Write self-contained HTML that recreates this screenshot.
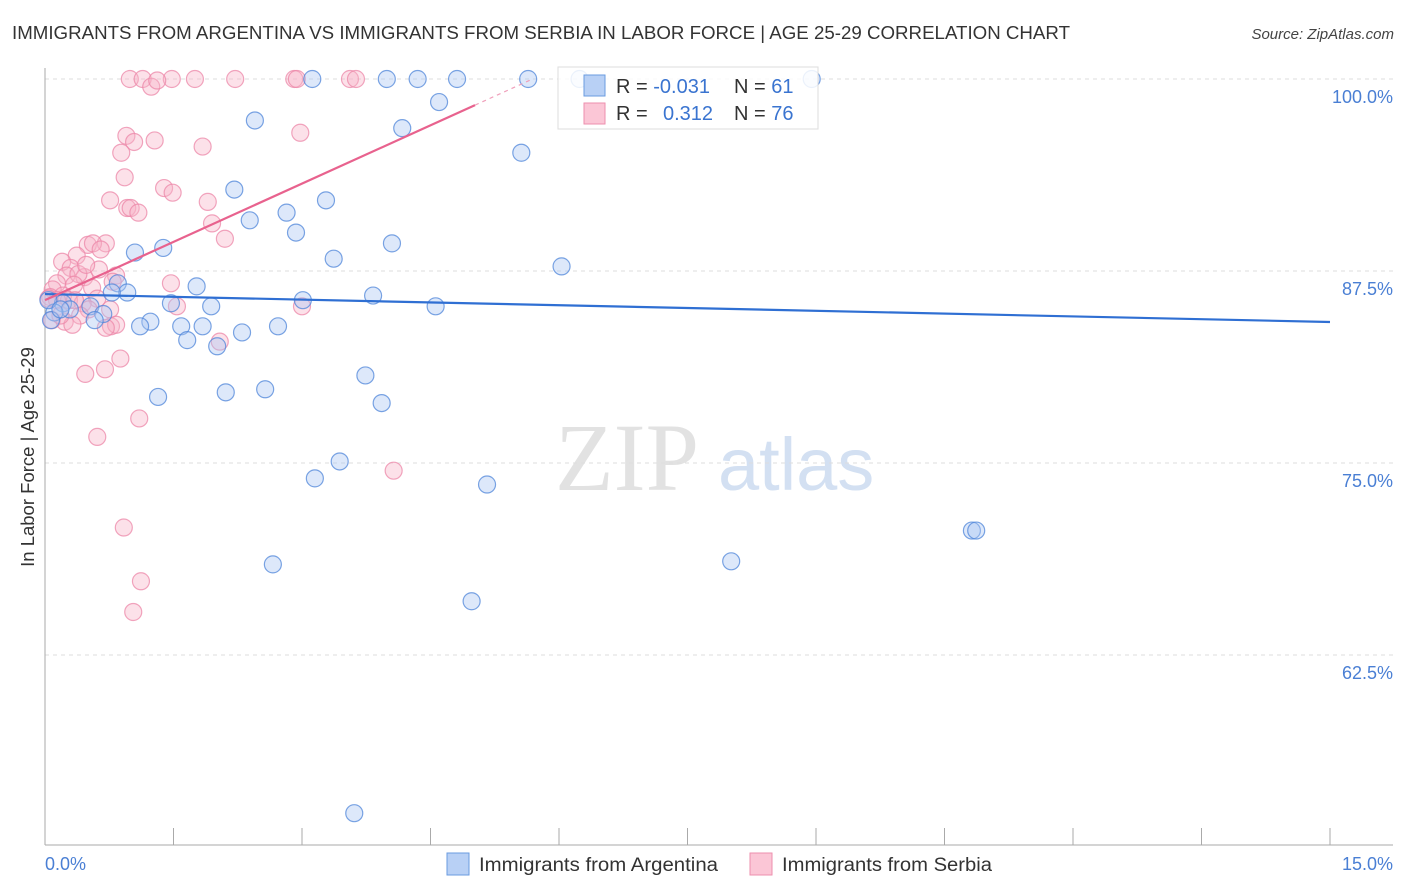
<!DOCTYPE html>
<html><head><meta charset="utf-8"><style>
body{margin:0;background:#fff;font-family:"Liberation Sans",sans-serif}
svg{display:block}
</style></head><body>
<svg id="chart" width="1406" height="892" xmlns="http://www.w3.org/2000/svg">
<text x="12" y="39" font-size="18" fill="#333" textLength="1058" lengthAdjust="spacingAndGlyphs">IMMIGRANTS FROM ARGENTINA VS IMMIGRANTS FROM SERBIA IN LABOR FORCE | AGE 25-29 CORRELATION CHART</text>
<text x="1394" y="39" font-size="15" fill="#444" text-anchor="end" font-style="italic">Source: ZipAtlas.com</text>
<g>
<text x="555" y="490" font-family="Liberation Serif" font-size="96" fill="#e2e2e2">ZIP</text>
<text x="718" y="490" font-size="74" fill="#d3e0f2">atlas</text>
</g>
<g id="grid"></g><g id="axes"></g><g id="pts"></g><g id="trend"></g>
<text transform="translate(34,457) rotate(-90)" font-size="18.5" fill="#333" text-anchor="middle">In Labor Force | Age 25-29</text>
<text x="45" y="870" font-size="18" fill="#4a7fd4">0.0%</text>
<text x="1393" y="870" font-size="18" fill="#4a7fd4" text-anchor="end">15.0%</text>
<g>
<rect x="558" y="67" width="260" height="62" fill="#fff" fill-opacity="0.85" stroke="#ddd"/>
<rect x="584" y="75" width="21" height="21" fill="#b8d0f5" stroke="#6a9be0"/>
<rect x="584" y="103" width="21" height="21" fill="#fbc6d6" stroke="#ee8fae"/>
<text x="616" y="93" font-size="20" fill="#333">R = <tspan fill="#3a74d0">-0.031</tspan></text>
<text x="734" y="93" font-size="20" fill="#333">N = <tspan fill="#3a74d0"> 61</tspan></text>
<text x="616" y="120" font-size="20" fill="#333">R = <tspan fill="#3a74d0" x="663">0.312</tspan></text>
<text x="734" y="120" font-size="20" fill="#333">N = <tspan fill="#3a74d0">76</tspan></text>
</g>
<g><rect x="447" y="853" width="22" height="22" fill="#b8d0f5" stroke="#6a9be0"/><text x="479" y="871" font-size="19" fill="#333" textLength="239" lengthAdjust="spacingAndGlyphs">Immigrants from Argentina</text></g>
<g><rect x="750" y="853" width="22" height="22" fill="#fbc6d6" stroke="#ee8fae"/><text x="782" y="871" font-size="19" fill="#333" textLength="210" lengthAdjust="spacingAndGlyphs">Immigrants from Serbia</text></g>
</svg>
<script>
const yTicks=[100,87.5,75,62.5];
const yTickLabels=["100.0%","87.5%","75.0%","62.5%"];
const xTicks=[0,1.5,3,4.5,6,7.5,9,10.5,12,13.5,15];
const argX=[3.12,3.99,4.35,4.81,5.64,6.24,8.95,2.45,4.60,4.17,5.56,2.21,3.28,2.39,2.82,2.93,4.05,1.38,1.05,3.37,6.03,1.77,0.85,0.96,0.78,3.01,3.83,1.47,1.94,4.56,0.21,0.53,0.29,0.11,0.68,1.23,0.58,1.11,1.59,1.84,2.72,2.30,1.66,2.01,0.07,3.74,1.32,2.11,2.57,3.93,3.44,3.15,5.16,10.82,10.87,8.01,2.66,4.98,3.61,0.04,0.18];
const argY=[100,100,100,100,100,100,100,97.3,98.5,96.8,95.2,92.8,92.1,90.8,91.3,90.0,89.3,89.0,88.7,88.3,87.8,86.5,86.7,86.1,86.1,85.6,85.9,85.4,85.2,85.2,85.4,85.2,85.0,84.8,84.7,84.2,84.3,83.9,83.9,83.9,83.9,83.5,83.0,82.6,84.3,80.7,79.3,79.6,79.8,78.9,75.1,74.0,73.6,70.6,70.6,68.6,68.4,66.0,52.2,85.6,85.0];
const serX=[0.99,1.14,1.48,1.75,2.22,2.91,2.94,3.56,3.63,1.24,1.31,2.98,0.95,1.04,1.28,1.84,0.89,0.93,1.39,1.49,0.76,1.90,0.96,1.00,1.09,1.95,2.10,0.50,0.71,0.56,0.65,0.37,0.20,0.30,0.83,0.46,0.63,0.25,0.39,0.14,0.55,0.09,0.34,0.06,0.21,0.61,0.28,0.14,0.44,0.76,0.51,0.41,0.77,0.83,0.71,0.23,0.32,1.47,1.54,3.00,2.04,0.88,0.70,0.47,0.61,1.10,4.07,0.92,1.12,1.03,0.04,0.08,0.18,0.35,0.48,0.79];
const serY=[100,100,100,100,100,100,100,100,100,99.5,99.9,96.5,96.3,95.9,96.0,95.6,95.2,93.6,92.9,92.6,92.1,92.0,91.6,91.6,91.3,90.6,89.6,89.2,89.3,89.3,88.9,88.5,88.1,87.7,87.2,87.1,87.6,87.2,87.3,86.7,86.4,86.3,86.6,85.8,85.9,85.7,85.6,85.6,85.4,85.0,85.0,84.6,83.9,84.0,83.8,84.2,84.0,86.7,85.2,85.2,82.9,81.8,81.1,80.8,76.7,77.9,74.5,70.8,67.3,65.3,85.7,84.3,84.6,85.6,87.9,86.8];
const argTrend=[86.0,84.18];
const serTrend=[85.6,98.3];
const serTrendEnd=5.02;
const NS="http://www.w3.org/2000/svg";
const X=v=>45+v/15*1285;
const Y=v=>79+(100-v)/12.5*192;
function mk(t,a,p){const e=document.createElementNS(NS,t);for(const k in a)e.setAttribute(k,a[k]);document.getElementById(p).appendChild(e);return e;}
yTicks.forEach((t,i)=>{
 const l=mk('line',{x1:45,x2:1393,y1:Y(t),y2:Y(t),stroke:'#ddd','stroke-dasharray':'4,4'},'grid');
 
 
 const tx=mk('text',{x:1393,y:Y(t)+24,'font-size':18,fill:'#4a7fd4','text-anchor':'end'},'grid');
 tx.textContent=yTickLabels[i];
 
 
});
const ax=mk('line',{x1:45,x2:45,y1:68,y2:845,stroke:'#aaa'},'axes');


const bx=mk('line',{x1:45,x2:1393,y1:845,y2:845,stroke:'#aaa'},'axes');


xTicks.forEach(t=>{
 const l=mk('line',{x1:X(t),x2:X(t),y1:828,y2:845,stroke:'#aaa'},'axes');
 
 
});
function pts(xs,ys,fill,stroke,name){xs.forEach((x,i)=>{
 const c=mk('circle',{cx:X(x),cy:Y(ys[i]),r:8.5,fill:fill,'fill-opacity':0.4,stroke:stroke,'stroke-opacity':0.75,'stroke-width':1.2},'pts');
 
 
});}
pts(serX,serY,'#f8b4c9','#ec87a8','serbia-point');
pts(argX,argY,'#a9c6f2','#4f86da','argentina-point');
const bl=mk('line',{x1:X(0),y1:Y(argTrend[0]),x2:X(15),y2:Y(argTrend[1]),stroke:'#2f6fd3','stroke-width':2.2},'trend');


const pl=mk('line',{x1:X(0),y1:Y(serTrend[0]),x2:X(serTrendEnd),y2:Y(serTrend[1]),stroke:'#e8628e','stroke-width':2.2},'trend');


const slope=(serTrend[1]-serTrend[0])/serTrendEnd;
const pd=mk('line',{x1:X(serTrendEnd),y1:Y(serTrend[1]),x2:X(serTrendEnd+0.65),y2:Y(serTrend[1]+slope*0.65),stroke:'#f0a0bb','stroke-width':1.2,'stroke-dasharray':'4,4'},'trend');


</script>
</body></html>
